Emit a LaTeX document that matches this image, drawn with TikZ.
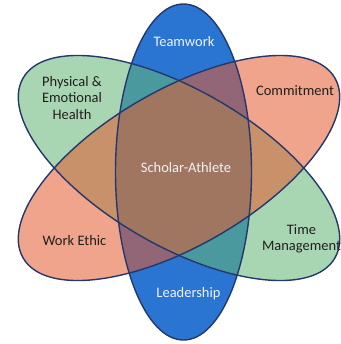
\documentclass[tikz,border=0pt]{standalone}
\usepackage{fontspec}
\setmainfont{Carlito}
\usepackage{xcolor}
\usepackage{tikz}
\definecolor{teamcolor}{RGB}{42, 116, 210}
\definecolor{healthcolor}{RGB}{100, 182, 118}
\definecolor{commitcolor}{RGB}{228, 92, 48}
\definecolor{edgecolor}{RGB}{36, 56, 110}
\definecolor{inkcolor}{RGB}{35, 30, 30}
\definecolor{lightcolor}{RGB}{240, 242, 250}

\begin{document}
\begin{tikzpicture}[x=0.025cm, y=-0.025cm, font=\fontsize{10.3}{11.4}\selectfont]
        \useasboundingbox (0,0) rectangle (341,344);

        % Teamwork / Leadership petal
        \fill[teamcolor] (183.5,172) ellipse [x radius=68, y radius=168];

        % Physical & Emotional Health / Time Management petal
        \fill[healthcolor, fill opacity=0.56, rotate around={-30:(179,168)}] (179,168) ellipse [x radius=180, y radius=78];

        % Commitment / Work Ethic petal
        \fill[commitcolor, fill opacity=0.56, rotate around={30:(179,168)}] (179,168) ellipse [x radius=180, y radius=78];

        % Outlines
        \draw[edgecolor, line width=1pt] (183.5,172) ellipse [x radius=68, y radius=168];
        \draw[edgecolor, line width=1pt, rotate around={-30:(179,168)}] (179,168) ellipse [x radius=180, y radius=78];
        \draw[edgecolor, line width=1pt, rotate around={30:(179,168)}] (179,168) ellipse [x radius=180, y radius=78];

        % Labels
        \node[text=lightcolor] (teamwork) at (184,42) {Teamwork};
        \node[text=lightcolor] (leadership) at (188.5,294) {Leadership};
        \node[text=inkcolor, align=center] (health) at (72,98) {Physical \&\\Emotional\\Health};
        \node[text=inkcolor] (commitment) at (295,91) {Commitment};
        \node[text=inkcolor] (workethic) at (74.5,241) {Work Ethic};
        \node[text=inkcolor, align=center] (time) at (301.5,239) {Time\\Management};
        \node[text=lightcolor] (scholar) at (186,168) {Scholar-Athlete};
    \end{tikzpicture}
\end{document}
